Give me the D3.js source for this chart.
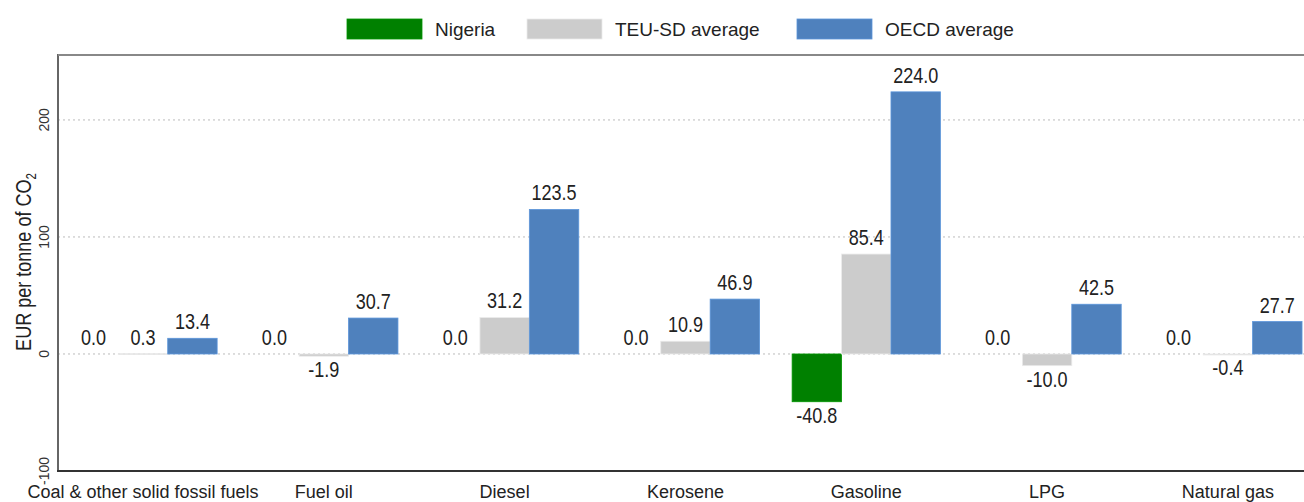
<!DOCTYPE html>
<html>
<head>
<meta charset="UTF-8">
<title>Tax rates by fuel</title>
<script src="https://d3js.org/d3.v7.min.js"></script>
<style>
  body { margin: 0; background: #fff; }
  text { font-family: "Liberation Sans", Arial, sans-serif; fill: #222; }
</style>
</head>
<body>
<svg id="chart" width="1304" height="502"></svg>
<script>
var categories = ["Coal & other solid fossil fuels", "Fuel oil", "Diesel", "Kerosene", "Gasoline", "LPG", "Natural gas"];
var seriesNames = ["Nigeria", "TEU-SD average", "OECD average"];
var nigeria = [0.0, 0.0, 0.0, 0.0, -40.8, 0.0, 0.0];
var teuSd = [0.3, -1.9, 31.2, 10.9, 85.4, -10.0, -0.4];
var oecd = [13.4, 30.7, 123.5, 46.9, 224.0, 42.5, 27.7];
var yTicks = [-100, 0, 100, 200];

var colors = ["#008000", "#cccccc", "#4f81bd"];
var values = [nigeria, teuSd, oecd];

var svg = d3.select("#chart");

// plot frame (note: "top" is reserved on window)
var plotLeft = 58, plotTop = 55, plotBottom = 471, plotRight = 1304;

var y = d3.scaleLinear().domain([-100, 255.5]).range([plotBottom, plotTop]);

var x0 = d3.scaleBand()
    .domain(categories)
    .range([52.6, 1318.3])
    .paddingInner(0.18)
    .paddingOuter(0.09);

var x1 = d3.scaleBand()
    .domain(seriesNames)
    .range([0, x0.bandwidth()]);

// gridlines
svg.append("g")
  .selectAll("line")
  .data(yTicks)
  .enter().append("line")
    .attr("x1", plotLeft)
    .attr("x2", plotRight)
    .attr("y1", function(d) { return y(d); })
    .attr("y2", function(d) { return y(d); })
    .style("stroke", "#bbb")
    .style("stroke-width", 1)
    .style("stroke-dasharray", "2,3");

// y axis tick labels (rotated)
svg.append("g")
  .selectAll("text")
  .data(yTicks)
  .enter().append("text")
    .attr("transform", function(d) { return "translate(49," + y(d) + ") rotate(-90)"; })
    .attr("text-anchor", "middle")
    .style("font-size", "14px")
    .style("fill", "#333")
    .text(function(d) { return d; });

// axis title
var title = svg.append("text")
    .attr("transform", "translate(31,262) rotate(-90) scale(0.82,1)")
    .attr("text-anchor", "middle")
    .style("font-size", "22px");
title.append("tspan").text("EUR per tonne of CO");
title.append("tspan").text("2").attr("dy", 5).style("font-size", "14px");

// bars
var rows = [];
categories.forEach(function(c, i) {
  seriesNames.forEach(function(s, j) {
    rows.push({cat: c, ser: s, j: j, v: values[j][i]});
  });
});

svg.append("g")
  .selectAll("rect")
  .data(rows)
  .enter().append("rect")
    .attr("x", function(d) { return x0(d.cat) + x1(d.ser); })
    .attr("y", function(d) { return y(Math.max(0, d.v)); })
    .attr("width", x1.bandwidth())
    .attr("height", function(d) { return Math.max(Math.abs(y(d.v) - y(0)), d.v === 0 ? 0 : 1); })
    .style("fill", function(d) { return colors[d.j]; })
    .style("stroke", function(d) { return d3.color(colors[d.j]).brighter(0.4); })
    .style("stroke-width", 0.8);

// value labels
svg.append("g")
  .selectAll("text")
  .data(rows)
  .enter().append("text")
    .attr("transform", function(d) {
      var cx = x0(d.cat) + x1(d.ser) + x1.bandwidth() / 2;
      var cy = d.v >= 0 ? y(d.v) - 9 : y(d.v) + 21;
      return "translate(" + cx + "," + cy + ") scale(0.82,1)";
    })
    .attr("text-anchor", "middle")
    .style("font-size", "22px")
    .text(function(d) { return d.v.toFixed(1); });

// frame
svg.append("line")
    .attr("x1", plotLeft).attr("x2", plotLeft)
    .attr("y1", plotTop - 1).attr("y2", plotBottom)
    .style("stroke", "#666").style("stroke-width", 2);
svg.append("line")
    .attr("x1", plotLeft).attr("x2", plotRight)
    .attr("y1", plotTop).attr("y2", plotTop)
    .style("stroke", "#888").style("stroke-width", 2);
svg.append("line")
    .attr("x1", plotLeft - 1).attr("x2", plotRight)
    .attr("y1", plotBottom).attr("y2", plotBottom)
    .style("stroke", "#333").style("stroke-width", 2);

// category labels
svg.append("g")
  .selectAll("text")
  .data(categories)
  .enter().append("text")
    .attr("x", function(d) { return x0(d) + x0.bandwidth() / 2; })
    .attr("y", 498)
    .attr("text-anchor", "middle")
    .style("font-size", "18px")
    .text(function(d) { return d; });

// legend
var legendX = [347, 527, 797];
var leg = svg.append("g")
  .selectAll("g")
  .data(seriesNames)
  .enter().append("g")
    .attr("transform", function(d, i) { return "translate(" + legendX[i] + ",19)"; });
leg.append("rect")
    .attr("width", 75)
    .attr("height", 20)
    .style("fill", function(d, i) { return colors[i]; })
    .style("stroke", function(d, i) { return d3.color(colors[i]).brighter(0.4); })
    .style("stroke-width", 0.8);
leg.append("text")
    .attr("x", 88)
    .attr("y", 17)
    .style("font-size", "19px")
    .text(function(d) { return d; });
</script>
</body>
</html>
